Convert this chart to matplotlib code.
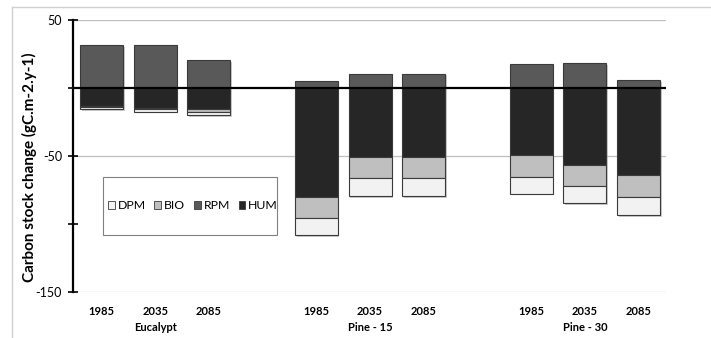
import matplotlib
matplotlib.use("Agg")
import matplotlib.pyplot as plt
from matplotlib.patches import Rectangle
from matplotlib.lines import Line2D
import matplotlib.patheffects as pe
import matplotlib.transforms as mtransforms

plt.rcParams['font.family'] = ['Lato', 'DejaVu Sans']

# Data: annual carbon stock change per RothC pool (gC.m-2.y-1)
years = ["1985", "2035", "2085", "1985", "2035", "2085", "1985", "2035", "2085"]
groups = ["Eucalypt", "Pine - 15", "Pine - 30"]
slots = [0, 1, 2, 4, 5, 6, 8, 9, 10]
rpm = [31.6, 31.6, 20.6, 5.1, 10.5, 10.5, 17.4, 18.1, 5.6]
hum = [-13.5, -14.5, -15.7, -79.9, -50.5, -50.5, -49.3, -56.4, -63.7]
bio = [-0.8, -0.7, -1.9, -15.9, -15.9, -15.9, -15.9, -15.4, -16.7]
dpm = [-1.1, -2.2, -2.3, -12.5, -13.0, -13.0, -12.5, -13.0, -13.2]

colors = {"DPM": "#F2F2F2", "BIO": "#BFBFBF", "RPM": "#595959", "HUM": "#262626"}
edge = "#3A3A3A"

W, H = 711, 338
fig = plt.figure(figsize=(W / 100, H / 100), dpi=100)
ax = fig.add_axes([73 / W, 1 - 292 / H, 592.5 / W, 272 / H])

shadow = [pe.SimplePatchShadow(offset=(1.2, -1.2), shadow_rgbFace="#9a9a9a", alpha=0.5), pe.Normal()]
bw = 0.8
kw = dict(width=bw, edgecolor=edge, linewidth=0.8, zorder=3)

b_rpm = ax.bar(slots, rpm, color=colors["RPM"], **kw)
b_hum = ax.bar(slots, hum, color=colors["HUM"], **kw)
hb = [h + b for h, b in zip(hum, bio)]
b_bio = ax.bar(slots, bio, bottom=hum, color=colors["BIO"], **kw)
b_dpm = ax.bar(slots, dpm, bottom=hb, color=colors["DPM"], **kw)
for cont in (b_rpm, b_hum, b_bio, b_dpm):
    for p in cont:
        p.set_path_effects(shadow)

ax.set_xlim(-0.53, 10.5)
ax.set_ylim(-150, 50)

# Horizontal gridlines and the zero (category) axis
for gy in (50, -50, -150):
    ax.axhline(gy, color="#BFBFBF", linewidth=0.9, zorder=1)
ax.axhline(0, color="black", linewidth=1.6, zorder=5)

for s in ("top", "right", "bottom"):
    ax.spines[s].set_visible(False)
ax.spines["left"].set_linewidth(1.6)
ax.spines["left"].set_color("black")
ax.spines["left"].set_zorder(6)

ax.set_yticks([50, 0, -50, -100, -150])
ax.set_yticklabels(["50", "", "-50", "", "-150"])
ax.tick_params(axis="y", direction="inout", length=7, width=1.2, pad=4.5,
               labelsize=9, colors="black")
ax.set_xticks([])

ax.set_ylabel("Carbon stock change (gC.m-2.y-1)", fontsize=11, fontweight="bold")
ax.yaxis.set_label_coords((37 - 73) / 592.5, 1 - (167 - 20) / 272)

# Category labels: years under each bar, site names under each group
tr = mtransforms.blended_transform_factory(ax.transData, fig.transFigure)
for x, yr in zip(slots, years):
    ax.text(x, 1 - 311.5 / H, yr, transform=tr, ha="center", va="center",
            fontsize=8, fontweight="bold")
for i, g in enumerate(groups):
    ax.text(slots[3 * i + 1], 1 - 327.5 / H, g, transform=tr, ha="center",
            va="center", fontsize=8, fontweight="bold")

# Legend inside a framed box
x0, x1 = (103 - 73) / 592.5, (277 - 73) / 592.5
y0, y1 = (292 - 235) / 272, (292 - 176.7) / 272
ax.add_patch(Rectangle((x0, y0), x1 - x0, y1 - y0, transform=ax.transAxes,
                       facecolor="white", edgecolor="#808080", linewidth=0.8,
                       zorder=7))
handles = [Rectangle((0, 0), 1, 1, facecolor=colors[k], edgecolor=edge, linewidth=0.6)
           for k in ("DPM", "BIO", "RPM", "HUM")]
leg = ax.legend(handles, ["DPM", "BIO", "RPM", "HUM"], loc="center",
                bbox_to_anchor=((x0 + x1) / 2 + 0.005, (y0 + y1) / 2), ncol=4,
                frameon=False, fontsize=8.8, handlelength=0.55, handleheight=0.55,
                handletextpad=0.25, columnspacing=0.7)
leg.set_zorder(8)

# Outer chart border
fig.add_artist(Line2D([11.5 / W, 1.0], [1 - 7 / H] * 2, transform=fig.transFigure,
                      color="#D0D0D0", linewidth=1.0))
fig.add_artist(Line2D([11.5 / W] * 2, [0.0, 1 - 7 / H], transform=fig.transFigure,
                      color="#D0D0D0", linewidth=1.0))

fig.savefig("out.png", dpi=100)
